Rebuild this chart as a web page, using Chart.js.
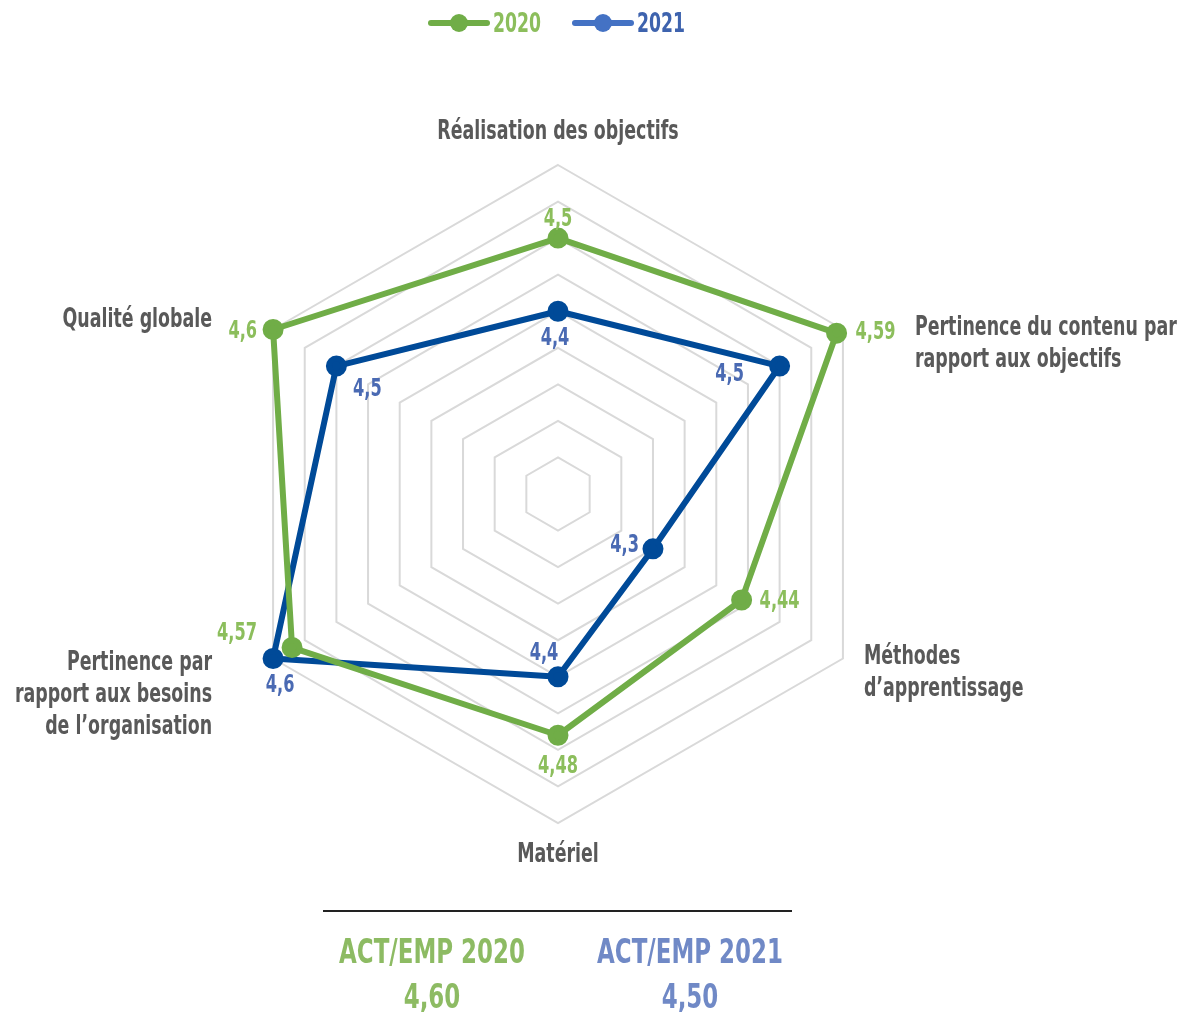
<!DOCTYPE html>
<html>
<head>
<meta charset="utf-8">
<script src="https://cdn.jsdelivr.net/npm/chart.js@4.4.1/dist/chart.umd.min.js"></script>
<style>
  html, body { margin: 0; padding: 0; background: #ffffff; }
  #wrap { position: relative; width: 1182px; height: 1012px; overflow: hidden;
          font-family: "DejaVu Sans Condensed", "DejaVu Sans", sans-serif; font-weight: bold; }
  #chart { position: absolute; left: 0; top: 0; }
  .leg { position: absolute; top: 8px; height: 30px; }
  .leg .line { position: absolute; top: 12px; width: 62px; height: 6px; border-radius: 3px; }
  .leg .dot { position: absolute; top: 6px; left: 22px; width: 18px; height: 18px; border-radius: 50%; }
  .leg .txt { position: absolute; left: 65px; top: -1px; font-size: 27px; line-height: 32px;
              transform: scaleX(0.71); transform-origin: 0 50%; white-space: nowrap; }
  .rule { position: absolute; left: 323px; top: 910px; width: 469px; height: 0; border-top: 2px solid #222; }
  .sum { position: absolute; width: 300px; text-align: center; font-size: 34px; line-height: 45px;
         transform: scaleX(0.75); transform-origin: 50% 50%; white-space: nowrap; }
</style>
</head>
<body>
<div id="wrap">
  <canvas id="chart" width="1182" height="1012"></canvas>
  <div class="leg" style="left:428px;">
    <div class="line" style="background:#70AD47"></div>
    <div class="dot" style="background:#70AD47"></div>
    <div class="txt" style="color:#8CBE5C">2020</div>
  </div>
  <div class="leg" style="left:572px;">
    <div class="line" style="background:#4472C4"></div>
    <div class="dot" style="background:#4472C4"></div>
    <div class="txt" style="color:#3E63AE">2021</div>
  </div>
  <div class="rule"></div>
  <div class="sum" style="left:282px; top:929px; color:#8DBB63">ACT/EMP 2020<br>4,60</div>
  <div class="sum" style="left:540px; top:929px; color:#7089C6">ACT/EMP 2021<br>4,50</div>
</div>
<script>
// ---- Data ----
const categories = [
  ["Réalisation des objectifs"],
  ["Pertinence du contenu par", "rapport aux objectifs"],
  ["Méthodes", "d\u2019apprentissage"],
  ["Matériel"],
  ["Pertinence par", "rapport aux besoins", "de l\u2019organisation"],
  ["Qualité globale"]
];
const values2020 = [4.5, 4.59, 4.44, 4.48, 4.57, 4.6];
const values2021 = [4.4, 4.5, 4.3, 4.4, 4.6, 4.5];
const seriesNames = ["2020", "2021"];
const scaleMin = 4.15;
const scaleMax = 4.6;
const scaleStep = 0.05;

// ---- Styles / placement (not data) ----
const FONT = '"DejaVu Sans Condensed", "DejaVu Sans", sans-serif';
const GREEN = '#70AD47', BLUE = '#004A98';
const GREEN_LBL = '#8CBE5C', BLUE_LBL = '#4A6AB3';
// label offsets relative to points: [dx, dy, align]
const lblOff2020 = [[0,-19,'center'],[19,-1,'left'],[18,1,'left'],[0,31,'center'],[-55,-14,'center'],[-16,2,'right']];
const lblOff2021 = [[-3,27,'center'],[-50,8,'center'],[-14,-3,'right'],[-14,-23,'center'],[7,27,'center'],[31,23,'center']];
// category label offsets relative to outer vertex: [dx, dy, align]
const catOff = [[0,-32.5,'center'],[72,14.5,'left'],[21,14.5,'left'],[0,32,'center'],[-61,36.5,'right'],[-61,-9.5,'right']];
const catLineH = 32;
const CAT_SX = 0.745, LBL_SX = 0.72;

function fmt(v){ return String(v).replace('.', ','); }

function drawText(ctx, t, x, y, align, sx) {
  ctx.save();
  ctx.translate(x, y);
  ctx.scale(sx, 1);
  ctx.textAlign = align;
  ctx.fillText(t, 0, 0);
  ctx.restore();
}

const labelsPlugin = {
  id: 'customLabels',
  afterDatasetsDraw(chart) {
    const ctx = chart.ctx;
    const scale = chart.scales.r;
    ctx.save();
    ctx.textBaseline = 'middle';
    // category labels
    ctx.font = 'bold 26px ' + FONT;
    ctx.fillStyle = '#595959';
    categories.forEach((lines, i) => {
      const p = scale.getPointPosition(i, scale.drawingArea);
      const o = catOff[i];
      const n = lines.length;
      lines.forEach((t, k) => {
        drawText(ctx, t, p.x + o[0], p.y + o[1] + (k - (n - 1) / 2) * catLineH, o[2], CAT_SX);
      });
    });
    // data labels
    ctx.font = 'bold 25px ' + FONT;
    const sets = [[values2020, lblOff2020, GREEN_LBL], [values2021, lblOff2021, BLUE_LBL]];
    sets.forEach((s, di) => {
      const meta = chart.getDatasetMeta(di);
      meta.data.forEach((pt, i) => {
        const o = s[1][i];
        ctx.fillStyle = s[2];
        drawText(ctx, fmt(s[0][i]), pt.x + o[0], pt.y + o[1], o[2], LBL_SX);
      });
    });
    ctx.restore();
  }
};

new Chart(document.getElementById('chart'), {
  type: 'radar',
  data: {
    labels: categories.map(c => c.join(' ')),
    datasets: [
      { label: seriesNames[0], data: values2020, borderColor: GREEN, backgroundColor: GREEN,
        pointBackgroundColor: GREEN, pointBorderColor: GREEN, borderWidth: 6, pointRadius: 7.5, fill: false },
      { label: seriesNames[1], data: values2021, borderColor: BLUE, backgroundColor: BLUE,
        pointBackgroundColor: BLUE, pointBorderColor: BLUE, borderWidth: 6, pointRadius: 7.5, fill: false }
    ]
  },
  options: {
    responsive: false,
    animation: false,
    layout: { padding: { left: 229, right: 295, top: 165, bottom: 189 } },
    plugins: { legend: { display: false }, tooltip: { enabled: false } },
    elements: { line: { tension: 0, borderJoinStyle: 'round' } },
    scales: {
      r: {
        min: scaleMin, max: scaleMax,
        ticks: { stepSize: scaleStep, display: false },
        grid: { color: '#D9D9D9', lineWidth: 2 },
        angleLines: { display: false },
        pointLabels: { display: false }
      }
    }
  },
  plugins: [labelsPlugin]
});
</script>
</body>
</html>
